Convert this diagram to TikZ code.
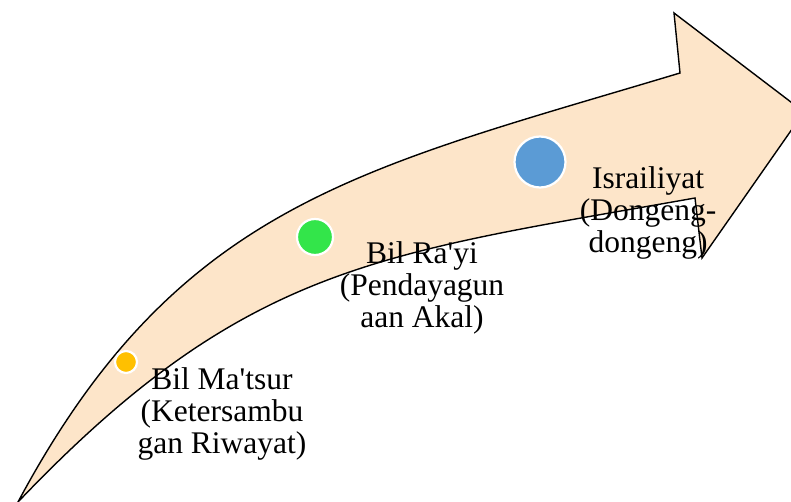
\documentclass[tikz,border=0pt]{standalone}
\usepackage{fontspec}
\setmainfont{Liberation Serif}
\definecolor{arrowfill}{HTML}{FDE5C9}
\definecolor{dotyellow}{HTML}{FFC000}
\definecolor{dotgreen}{HTML}{33E54A}
\definecolor{dotblue}{HTML}{5B9BD5}
\begin{document}
\begin{tikzpicture}[x=1pt,y=-1pt,
  dot/.style={circle,draw=white,line width=2.2pt,inner sep=0pt},
  lbl/.style={align=center,inner sep=0pt,font=\fontsize{31.5}{32}\selectfont}]
\useasboundingbox (0,0) rectangle (791,502);
\fill[white] (0,0) rectangle (791,502);
\draw[line width=1.4pt,fill=arrowfill,line join=miter]
  (18,502) .. controls (178,203) and (361,169) .. (680,73)
  -- (674,13) -- (804,112) -- (702,258) -- (695,198)
  .. controls (380,254) and (246,263) .. (18,502) -- cycle;
\node[dot,fill=dotyellow,minimum size=22pt] (d1) at (126,362) {};
\node[dot,fill=dotgreen,minimum size=36pt] (d2) at (315,237) {};
\node[dot,fill=dotblue,minimum size=51pt] (d3) at (540,162) {};
\node[lbl] (t1) at (222,414) {Bil Ma\textquotesingle tsur\\(Ketersambu\\gan Riwayat)};
\node[lbl] (t2) at (422,288) {Bil Ra\textquotesingle yi\\(Pendayagun\\aan Akal)};
\node[lbl] (t3) at (648,213) {Israiliyat\\(Dongeng-\\dongeng)};
\end{tikzpicture}
\end{document}
